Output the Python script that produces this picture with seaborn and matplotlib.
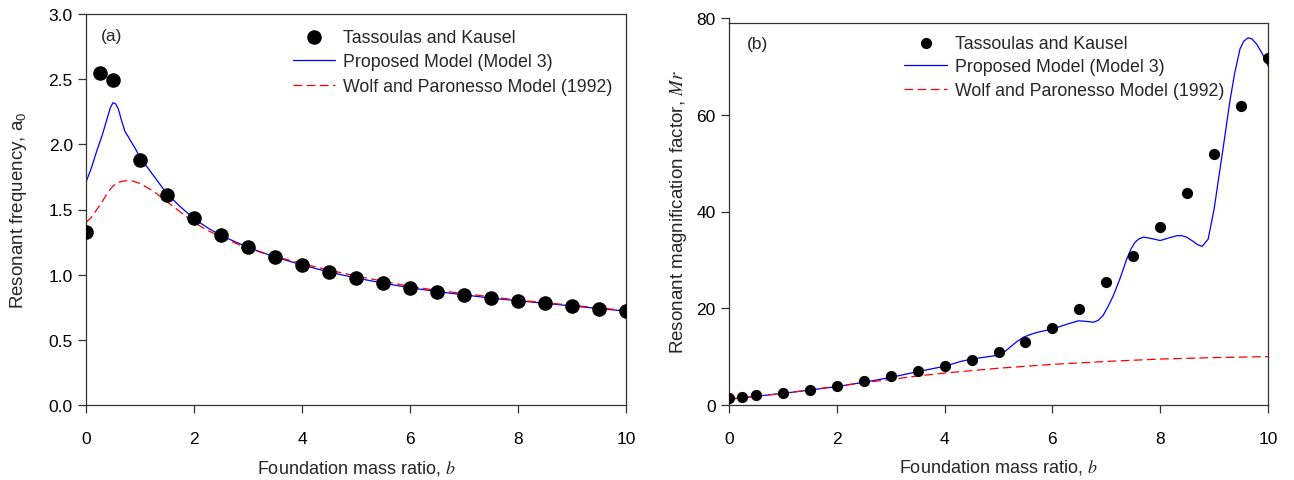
import numpy as np
import pandas as pd
import matplotlib
matplotlib.use("Agg")
import matplotlib.pyplot as plt
import seaborn as sns

# ---------------- data ----------------
b_pts = [0, 0.25, 0.5, 1, 1.5, 2, 2.5, 3, 3.5, 4, 4.5, 5, 5.5, 6, 6.5, 7, 7.5, 8, 8.5, 9, 9.5, 10]

a0_tk = [1.33, 2.55, 2.49, 1.88, 1.61, 1.435, 1.305, 1.21, 1.135, 1.075, 1.02, 0.975,
         0.935, 0.90, 0.87, 0.845, 0.82, 0.80, 0.78, 0.76, 0.74, 0.725]

a0_prop_b = [0, 0.1, 0.2, 0.3, 0.4, 0.45, 0.5, 0.55, 0.6, 0.66, 0.72, 0.78, 0.85, 0.91, 1.0,
             1.25, 1.5, 1.75, 2.0, 2.25, 2.5, 3, 3.5, 4, 4.5, 5, 5.5, 6, 6.5, 7, 7.5, 8, 8.5, 9, 9.5, 10]
a0_prop = [1.71, 1.82, 1.95, 2.07, 2.21, 2.28, 2.32, 2.31, 2.27, 2.18, 2.10, 2.06, 2.01, 1.97, 1.90,
           1.76, 1.62, 1.52, 1.43, 1.36, 1.30, 1.21, 1.135, 1.075, 1.02, 0.975, 0.935, 0.90, 0.87,
           0.845, 0.82, 0.80, 0.78, 0.76, 0.74, 0.72]

a0_wp_b = [0, 0.1, 0.2, 0.3, 0.4, 0.5, 0.6, 0.72, 0.85, 1.0, 1.25, 1.5, 1.75, 2.0, 2.25, 2.5,
           3, 3.5, 4, 4.5, 5, 5.5, 6, 6.5, 7, 7.5, 8, 8.5, 9, 9.5, 10]
a0_wp = [1.40, 1.44, 1.50, 1.56, 1.63, 1.68, 1.71, 1.72, 1.72, 1.70, 1.64, 1.56, 1.48, 1.40, 1.34,
         1.29, 1.20, 1.14, 1.085, 1.035, 0.99, 0.95, 0.91, 0.88, 0.855, 0.83, 0.805, 0.785, 0.765,
         0.745, 0.725]

mr_tk = [1.4, 1.7, 2.1, 2.5, 3.2, 4.0, 4.9, 5.9, 7.0, 8.1, 9.4, 11.0, 13.1, 16.0, 19.9, 25.4,
         30.7, 36.8, 43.8, 51.8, 61.9, 71.8]

mr_prop_b = [0, 0.5, 1, 1.5, 2, 2.5, 3, 3.5, 4, 4.3, 4.5, 4.75, 5.0, 5.1, 5.21, 5.33, 5.46, 5.6,
             5.71, 6.0, 6.27, 6.48, 6.62, 6.76, 6.85, 6.94, 7.03, 7.13, 7.25, 7.38, 7.46, 7.53,
             7.6, 7.69, 7.8, 8.0, 8.15, 8.31, 8.4, 8.49, 8.6, 8.7, 8.78, 8.89, 9.0, 9.11, 9.2,
             9.29, 9.38, 9.48, 9.55, 9.63, 9.7, 9.79, 9.9, 10.0]
mr_prop = [1.2, 1.8, 2.4, 3.1, 3.8, 4.7, 5.7, 6.9, 8.0, 9.0, 9.5, 9.9, 10.3, 10.9, 11.9, 13.0,
           14.0, 14.6, 15.0, 15.7, 16.7, 17.4, 17.3, 17.1, 17.5, 18.5, 20.3, 22.6, 26.0, 30.2,
           32.3, 33.6, 34.3, 34.7, 34.5, 34.0, 34.5, 35.0, 35.0, 34.7, 33.9, 33.1, 32.8, 34.3,
           40.5, 48.8, 55.6, 62.6, 68.5, 73.6, 75.2, 75.9, 75.7, 74.6, 72.5, 70.1]

mr_wp_b = [0, 0.5, 1, 1.5, 2, 2.5, 3, 3.5, 4, 4.5, 5, 6, 7, 8, 9, 10]
mr_wp = [1.2, 1.8, 2.4, 3.1, 3.9, 4.6, 5.3, 6.0, 6.6, 7.1, 7.6, 8.4, 9.0, 9.5, 9.8, 10.0]

labels = ["Tassoulas and Kausel", "Proposed Model (Model 3)", "Wolf and Paronesso Model (1992)"]

# ---------------- style ----------------
sns.set_style("ticks")
plt.rcParams["font.family"] = ["Liberation Sans", "DejaVu Sans"]
plt.rcParams["mathtext.fontset"] = "stix"
FS_TICK = 12.5
FS_LAB = 13
FS_YLAB = 13.5
FS_LEG = 12.8

fig = plt.figure(figsize=(12.94, 4.81), dpi=100)
axA = fig.add_axes([86 / 1294, 1 - 406 / 481, 540 / 1294, 391 / 481])
axB = fig.add_axes([729 / 1294, 1 - 406 / 481, 539 / 1294, 387 / 481])


def draw(ax, ytk, prop_b, prop, wp_b, wp, msize):
    sns.lineplot(x=prop_b, y=prop, ax=ax, color="#0000ff", lw=0.9, estimator=None,
                 sort=False, label=labels[1])
    sns.lineplot(x=wp_b, y=wp, ax=ax, color="#ff0000", lw=0.9, estimator=None,
                 sort=False, dashes=False, label=labels[2])
    ax.lines[-1].set_dashes([7, 3.5])
    sns.scatterplot(x=b_pts, y=ytk, ax=ax, color="black", s=msize, edgecolor="black",
                    linewidth=0, label=labels[0], zorder=5)
    for sp in ax.spines.values():
        sp.set_visible(True)
        sp.set_color("#333333")
        sp.set_linewidth(0.9)
    ax.tick_params(axis="both", which="major", direction="out", length=5.5, width=0.9,
                   color="#333333", labelcolor="black", labelsize=FS_TICK, top=False, right=False,
                   bottom=True, left=True)
    ax.tick_params(axis="x", pad=13)
    ax.tick_params(axis="y", pad=4)
    ax.minorticks_off()
    ax.set_xlim(0, 10)
    ax.set_xticks([0, 2, 4, 6, 8, 10])
    ax.set_xlabel("Foundation mass ratio, $b$", fontsize=FS_LAB)
    ax.xaxis.set_label_coords(0.5, -0.135)
    h, l = ax.get_legend_handles_labels()
    order = [l.index(t) for t in labels]
    return [h[i] for i in order]


hA = draw(axA, a0_tk, a0_prop_b, a0_prop, a0_wp_b, a0_wp, 110)
axA.set_ylim(0, 3.0)
axA.set_yticks(np.arange(0, 3.01, 0.5))
axA.yaxis.set_major_formatter(matplotlib.ticker.FormatStrFormatter("%.1f"))
axA.set_ylabel(r"Resonant frequency, $\mathregular{a_0}$", fontsize=FS_YLAB)
axA.yaxis.set_label_coords(-0.105, 0.5)
axA.text(0.027, 0.945, "(a)", transform=axA.transAxes, fontsize=FS_TICK, va="center", ha="left")
axA.legend(hA, labels, loc="upper left", bbox_to_anchor=(0.383, 0.962), frameon=False,
           fontsize=FS_LEG, handlelength=2.4, handletextpad=0.45, labelspacing=0.42,
           borderpad=0, borderaxespad=0)

hB = draw(axB, mr_tk, mr_prop_b, mr_prop, mr_wp_b, mr_wp, 65)
axB.set_ylim(0, 80)
axB.set_yticks([0, 20, 40, 60, 80])
axB.spines["top"].set_position(("data", 79))
axB.spines["right"].set_bounds(0, 79)
axB.set_ylabel(r"Resonant magnification factor, $Mr$", fontsize=FS_YLAB)
axB.yaxis.set_label_coords(-0.075, 0.5)
axB.text(0.033, 0.935, "(b)", transform=axB.transAxes, fontsize=FS_TICK, va="center", ha="left")
axB.legend(hB, labels, loc="upper left", bbox_to_anchor=(0.325, 0.956), frameon=False,
           fontsize=FS_LEG, handlelength=2.4, handletextpad=0.45, labelspacing=0.36,
           borderpad=0, borderaxespad=0)

fig.savefig("out.png", dpi=100)
